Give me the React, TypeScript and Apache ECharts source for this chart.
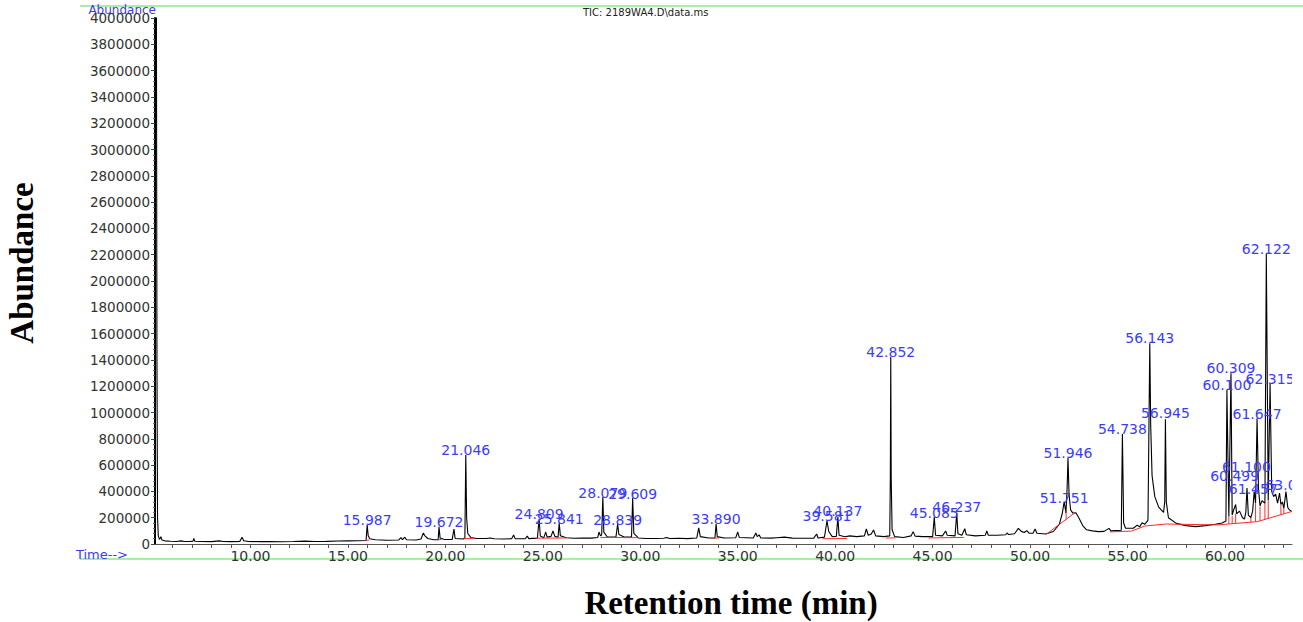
import React, { useEffect, useRef } from "react";
import * as echarts from "echarts";

// ---- Axis ticks / labels ----
const xLabelValues = [10, 15, 20, 25, 30, 35, 40, 45, 50, 55, 60];
const xTickValues = [6, 7, 8, 9, 10, 11, 12, 13, 14, 15, 16, 17, 18, 19, 20, 21, 22, 23, 24, 25, 26, 27, 28, 29, 30, 31, 32, 33, 34, 35, 36, 37, 38, 39, 40, 41, 42, 43, 44, 45, 46, 47, 48, 49, 50, 51, 52, 53, 54, 55, 56, 57, 58, 59, 60, 61, 62, 63];

// ---- TIC trace [retention time (min), abundance] ----
const traceEarly = [
  [5.1, 4300000], [5.17, 4300000], [5.2, 1400000], [5.23, 200000], [5.27, 60000], [5.33, 35000], [5.4, 56000], [5.46, 30000],
  [5.6, 24000], [5.9, 21000], [6.2, 19000], [6.45, 24000], [6.6, 19000], [6.9, 19000], [7.05, 22000], [7.09, 43000], [7.14, 21000],
  [7.5, 19000], [8.0, 18000], [8.4, 24000], [8.6, 19000], [9.0, 18000], [9.45, 20000], [9.57, 51000], [9.65, 25000], [9.9, 19000],
  [10.5, 18000], [11.0, 19000], [11.6, 17000], [12.2, 19000], [12.8, 22000], [13.3, 19000], [13.9, 20000], [14.5, 23000], [15.0, 24000],
  [15.5, 25000], [15.93, 27000], [15.987, 145000], [16.04, 62000], [16.12, 40000], [16.4, 32000], [17.0, 28000], [17.6, 30000],
  [17.72, 48000], [17.8, 33000], [17.92, 52000], [18.0, 32000], [18.5, 30000], [18.75, 38000], [18.87, 84000], [18.95, 62000],
  [19.1, 42000], [19.4, 32000], [19.63, 32000], [19.672, 130000], [19.73, 45000], [19.95, 34000], [20.35, 35000], [20.44, 114000],
  [20.5, 42000], [20.9, 38000], [21.0, 45000], [21.046, 677000], [21.09, 200000], [21.15, 80000], [21.3, 50000], [21.6, 42000],
  [22.1, 42000], [22.3, 46000], [22.5, 40000], [23.0, 38000], [23.4, 40000], [23.5, 68000], [23.58, 41000], [24.1, 40000],
  [24.2, 60000], [24.28, 41000], [24.72, 45000], [24.809, 190000], [24.87, 60000], [25.05, 48000], [25.15, 91000], [25.22, 52000],
  [25.42, 58000], [25.52, 99000], [25.62, 58000], [25.78, 52000], [25.841, 160000], [25.9, 62000], [26.2, 47000], [26.6, 44000],
  [27.0, 46000], [27.5, 45000], [27.82, 50000], [27.88, 91000], [27.96, 62000], [28.02, 70000], [28.079, 357000], [28.13, 90000],
  [28.3, 55000], [28.75, 52000], [28.839, 152000], [28.9, 72000], [29.2, 52000], [29.55, 52000], [29.609, 350000], [29.67, 80000],
  [29.9, 46000],
];

const traceMid = [
  [30.3, 42000], [30.8, 42000], [31.2, 44000], [31.35, 50000], [31.5, 42000], [32.0, 44000], [32.4, 41000], [32.9, 46000],
  [33.0, 122000], [33.08, 56000], [33.5, 46000], [33.83, 46000], [33.89, 152000], [33.95, 56000], [34.3, 46000], [34.9, 48000],
  [35.0, 91000], [35.08, 50000], [35.8, 46000], [35.93, 84000], [36.0, 56000], [36.1, 70000], [36.18, 46000], [36.7, 45000],
  [37.0, 48000], [37.4, 52000], [37.8, 45000], [38.3, 44000], [38.9, 45000], [39.05, 76000], [39.12, 46000], [39.45, 52000],
  [39.581, 177000], [39.67, 95000], [39.85, 56000], [40.06, 58000], [40.137, 205000], [40.2, 66000], [40.5, 55000], [40.75, 62000],
  [41.1, 56000], [41.5, 62000], [41.6, 114000], [41.7, 66000], [41.85, 76000], [41.97, 106000], [42.08, 62000], [42.5, 56000],
  [42.8, 62000], [42.83, 500000], [42.852, 1424000], [42.875, 500000], [42.92, 110000], [43.05, 56000], [43.5, 50000], [43.9, 62000],
  [44.0, 94000], [44.1, 60000], [44.5, 56000], [45.0, 56000], [45.085, 205000], [45.15, 66000], [45.5, 62000], [45.67, 99000],
  [45.75, 66000], [46.15, 62000], [46.237, 236000], [46.3, 78000], [46.5, 66000], [46.65, 116000], [46.73, 70000], [47.2, 62000],
  [47.7, 66000], [47.78, 99000], [47.86, 66000], [48.3, 66000], [48.75, 70000], [48.82, 84000], [48.9, 72000], [49.2, 78000],
  [49.4, 119000], [49.55, 96000], [49.7, 88000], [49.83, 101000], [49.95, 82000], [50.15, 82000], [50.26, 114000], [50.35, 82000],
  [50.8, 76000],
];

const traceLate = [
  [51.2, 95000], [51.5, 150000], [51.65, 230000], [51.751, 322000], [51.84, 235000], [51.9, 420000], [51.946, 654000], [52.0, 380000],
  [52.08, 260000], [52.2, 235000], [52.35, 238000], [52.5, 200000], [52.7, 140000], [52.9, 108000], [53.2, 100000], [53.5, 94000],
  [53.8, 96000], [54.05, 119000], [54.15, 100000], [54.68, 105000], [54.738, 836000], [54.8, 160000], [54.9, 120000], [55.3, 120000],
  [55.5, 144000], [55.62, 130000], [55.75, 162000], [55.88, 150000], [56.05, 180000], [56.1, 900000], [56.143, 1526000], [56.19, 900000],
  [56.26, 520000], [56.4, 360000], [56.6, 280000], [56.85, 240000], [56.91, 320000], [56.945, 948000], [56.99, 320000], [57.1, 200000],
  [57.5, 157000], [58.0, 140000], [58.5, 132000], [59.0, 140000], [59.5, 150000], [59.85, 160000], [60.05, 175000], [60.1, 1171000],
  [60.2, 210000], [60.309, 1298000], [60.37, 220000], [60.45, 260000], [60.55, 300000], [60.6, 230000], [60.75, 250000], [60.9, 200000],
  [61.0, 190000], [61.07, 240000], [61.13, 426000], [61.2, 220000], [61.33, 200000], [61.42, 250000], [61.5, 398000], [61.57, 310000],
  [61.647, 956000], [61.72, 420000], [61.8, 290000], [61.9, 330000], [62.05, 310000], [62.122, 2205000], [62.22, 330000],
  [62.315, 1222000], [62.4, 400000], [62.5, 360000], [62.6, 380000], [62.7, 310000], [62.8, 388000], [62.87, 300000], [62.95, 320000],
  [63.02, 270000], [63.13, 398000], [63.22, 280000], [63.3, 260000], [63.44, 246000],
];

// ---- Integration baselines / drop lines (red) ----
const baselineSegments = [
  [[15.9, 26000], [16.1, 30000]],
  [[19.6, 32000], [19.8, 34000]],
  [[20.96, 40000], [21.5, 44000]],
  [[24.65, 44000], [26.2, 46000]],
  [[27.95, 50000], [29.85, 48000]],
  [[33.75, 45000], [34.05, 46000]],
  [[39.35, 40000], [40.6, 42000]],
  [[42.6, 45000], [43.1, 47000]],
  [[44.8, 46000], [46.6, 50000]],
  [[50.85, 76000], [52.3, 238000]],
  [[51.85, 188000], [51.85, 262000]],
  [[54.1, 92000], [55.2, 98000], [55.9, 137000], [57.0, 152000], [59.6, 145000], [61.66, 170000], [63.44, 248000]],
  [[60.2, 152000], [60.2, 208000]],
  [[60.37, 154000], [60.37, 212000]],
  [[60.55, 156500], [60.55, 232000]],
  [[61.33, 166000], [61.33, 200000]],
  [[61.57, 169000], [61.57, 310000]],
  [[61.8, 176000], [61.8, 286000]],
  [[62.05, 187000], [62.05, 310000]],
  [[62.22, 194500], [62.22, 330000]],
  [[62.87, 223000], [62.87, 300000]],
  [[63.02, 229600], [63.02, 270000]],
];

// ---- Peak labels ----
const peakNames = ["15.987", "19.672", "21.046", "24.809", "25.841", "28.079", "28.839", "29.609", "33.890", "39.581", "40.137", "42.852", "45.085", "46.237", "51.751", "51.946", "54.738", "56.143", "56.945", "60.100", "60.309", "60.499", "61.100", "61.457", "61.647", "62.122", "62.315", "63.0"];
const peakTimes = [15.987, 19.672, 21.046, 24.809, 25.841, 28.079, 28.839, 29.609, 33.89, 39.581, 40.137, 42.852, 45.085, 46.237, 51.751, 51.946, 54.738, 56.143, 56.945, 60.1, 60.309, 60.499, 61.1, 61.457, 61.647, 62.122, 62.315, 63.13];
const peakLabelHeights = [145000, 130000, 677000, 190000, 152000, 350000, 145000, 342000, 152000, 175000, 212000, 1424000, 198000, 243000, 312000, 654000, 836000, 1530000, 958000, 1171000, 1300000, 479000, 548000, 380000, 951000, 2205000, 1217000, 410000];
const labelShiftX: Record<string, number> = { "63.0": -5 };

export default function App() {
  const ref = useRef<HTMLDivElement>(null);

  useEffect(() => {
    if (!ref.current) return;
    const chart = echarts.init(ref.current, undefined, { renderer: "svg" });
    const trace = [...traceEarly, ...traceMid, ...traceLate];
    const labelData = peakTimes.map((t, i) => [t, peakLabelHeights[i]]);

    const option: any = {
      animation: false,
      backgroundColor: "#ffffff",
      grid: { left: 155, right: 11, top: 18, bottom: 78, containLabel: false },
      title: {
        text: "TIC: 2189WA4.D\\data.ms",
        left: 583,
        top: 7,
        padding: 0,
        textStyle: { fontSize: 10, fontWeight: "normal", fontFamily: "DejaVu Sans", color: "#222" },
      },
      xAxis: {
        type: "value",
        min: 5.1,
        max: 63.44,
        axisLine: { show: true, onZero: false, lineStyle: { color: "#555", width: 1 } },
        axisTick: { show: true, customValues: xTickValues, length: 4, lineStyle: { color: "#555" } },
        axisLabel: {
          customValues: xLabelValues,
          formatter: (v: number) => v.toFixed(2),
          fontFamily: "DejaVu Sans",
          fontSize: 14,
          color: "#333",
          margin: 5,
        },
        splitLine: { show: false },
      },
      yAxis: {
        type: "value",
        min: 0,
        max: 4000000,
        interval: 200000,
        axisLine: { show: true, lineStyle: { color: "#000", width: 2 } },
        axisTick: { show: true, length: 4, lineStyle: { color: "#444" } },
        minorTick: { show: true, splitNumber: 5, length: 2, lineStyle: { color: "#666" } },
        axisLabel: {
          formatter: (v: number) => String(v),
          fontFamily: "DejaVu Sans",
          fontSize: 13.5,
          color: "#333",
          margin: 5,
        },
        splitLine: { show: false },
      },
      series: [
        {
          type: "line",
          data: trace,
          symbol: "none",
          showSymbol: false,
          clip: true,
          silent: true,
          lineStyle: { color: "#000", width: 1.1 },
          z: 3,
        },
        ...baselineSegments.map((seg) => ({
          type: "line",
          data: seg,
          symbol: "none",
          showSymbol: false,
          clip: true,
          silent: true,
          lineStyle: { color: "#ff2a2a", width: 1 },
          z: 4,
        })),
        {
          type: "custom",
          clip: true,
          silent: true,
          encode: { x: 0, y: 1 },
          data: labelData,
          z: 6,
          renderItem: (params: any, api: any) => {
            const p = api.coord([api.value(0), api.value(1)]);
            const name = peakNames[params.dataIndex];
            return {
              type: "text",
              x: p[0] + (labelShiftX[name] || 0),
              y: p[1] - 5,
              style: {
                text: name,
                align: "center",
                verticalAlign: "middle",
                textAlign: "center",
                textVerticalAlign: "middle",
                fill: "#3b3bff",
                fontSize: 14,
                fontFamily: "DejaVu Sans",
              },
            };
          },
        },
      ],
      graphic: [
        { type: "line", shape: { x1: 80, y1: 6, x2: 1303, y2: 6 }, style: { stroke: "#8be88b", lineWidth: 1.5 }, silent: true },
        { type: "line", shape: { x1: 80, y1: 559, x2: 1303, y2: 559 }, style: { stroke: "#8be88b", lineWidth: 1.5 }, silent: true },
        {
          type: "text",
          x: 156,
          y: 10,
          style: { text: "Abundance", fill: "#3b3bff", font: '12px "DejaVu Sans"', align: "right", verticalAlign: "middle", textAlign: "right", textVerticalAlign: "middle" },
          silent: true,
        },
        {
          type: "text",
          x: 128,
          y: 554,
          style: { text: "Time-->", fill: "#3b3bff", font: '13px "DejaVu Sans"', align: "right", verticalAlign: "middle", textAlign: "right", textVerticalAlign: "middle" },
          silent: true,
        },
        {
          type: "text",
          x: 22,
          y: 263,
          rotation: Math.PI / 2,
          style: { text: "Abundance", fill: "#000", font: 'bold 33px "Liberation Serif"', align: "center", verticalAlign: "middle", textAlign: "center", textVerticalAlign: "middle" },
          silent: true,
        },
        {
          type: "text",
          x: 731,
          y: 603,
          style: { text: "Retention time (min)", fill: "#000", font: 'bold 33px "Liberation Serif"', align: "center", verticalAlign: "middle", textAlign: "center", textVerticalAlign: "middle" },
          silent: true,
        },
      ],
    };

    chart.setOption(option);
    return () => chart.dispose();
  }, []);

  return (
    <div
      ref={ref}
      style={{ position: "fixed", left: 0, top: 0, width: 1303, height: 622, background: "#fff" }}
    />
  );
}
